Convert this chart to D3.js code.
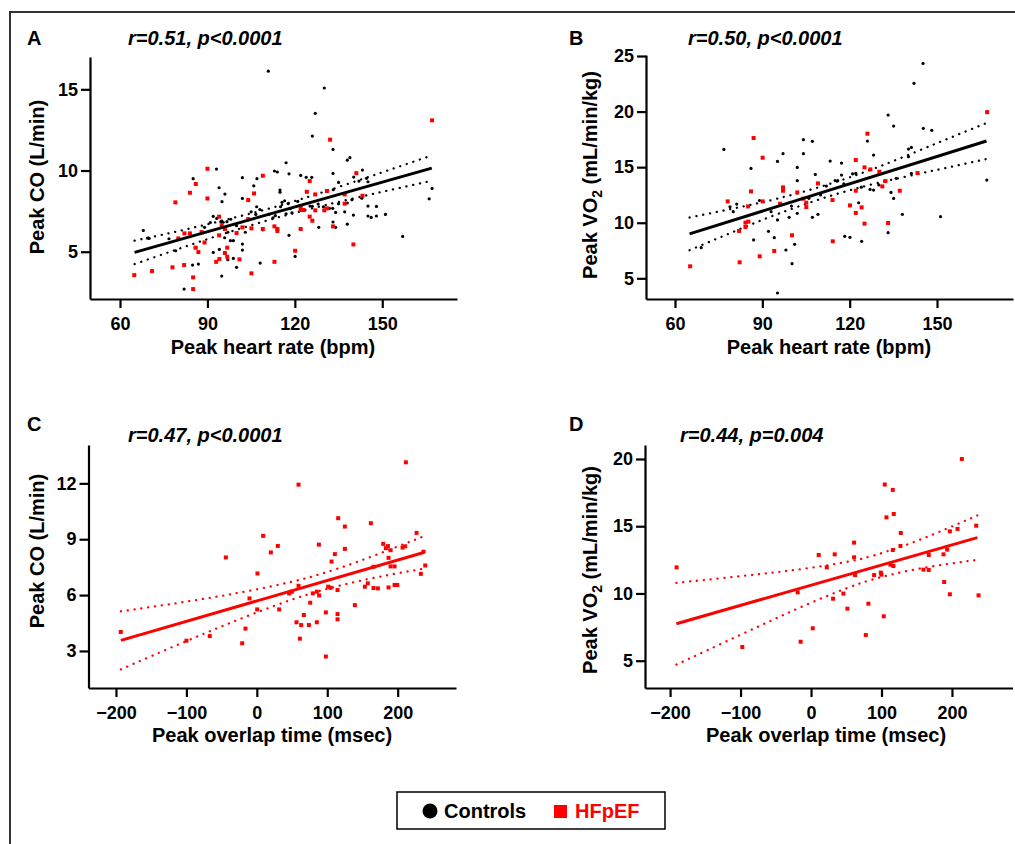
<!DOCTYPE html>
<html>
<head>
<meta charset="utf-8">
<script src="https://cdn.jsdelivr.net/npm/d3@7"></script>
<style>
  body { margin: 0; background: #fff; }
  svg text { font-family: "Liberation Sans", Arial, sans-serif; font-weight: bold; }
</style>
</head>
<body>
<svg id="fig" width="1015" height="844"></svg>
<script>
// panel A: peak heart rate (bpm) vs peak CO (L/min)
var hrCoControls = [[110.9,16.12],[130.1,15.08],[127.0,13.52],[126.0,12.12],[133.1,11.30],[93.1,10.09],[85.1,9.50],[102.0,9.56],[107.0,9.50],[113.0,9.97],[114.0,9.91],[117.0,10.48],[118.0,9.80],[122.0,9.70],[123.9,9.58],[125.8,9.58],[133.1,9.82],[138.0,10.64],[138.9,10.79],[143.2,10.03],[140.2,9.60],[142.0,9.35],[144.6,9.52],[145.1,9.31],[135.0,9.27],[94.0,8.94],[96.0,8.55],[95.0,8.08],[102.0,8.28],[105.9,9.06],[114.9,8.80],[114.9,8.67],[116.5,8.14],[115.6,8.04],[117.7,7.96],[118.4,7.65],[115.1,7.77],[106.9,7.77],[105.0,7.46],[106.6,7.30],[112.5,7.09],[113.3,7.22],[117.0,7.34],[125.2,7.81],[128.0,7.94],[129.8,7.77],[131.9,7.67],[135.0,7.96],[133.2,8.82],[133.0,7.67],[134.0,7.42],[137.1,7.46],[139.6,8.20],[140.1,7.26],[145.1,7.81],[148.0,7.79],[151.1,7.30],[145.1,7.20],[146.2,7.11],[166.1,8.26],[167.1,8.90],[157.0,5.94],[138.0,6.70],[133.1,6.83],[134.0,6.50],[128.2,6.50],[120.1,4.71],[118.0,6.01],[109.0,6.35],[108.1,4.30],[92.0,7.18],[93.2,7.05],[94.6,6.85],[95.4,6.81],[96.7,6.85],[95.9,5.86],[97.9,5.68],[98.9,5.68],[94.1,5.14],[97.0,4.51],[98.9,4.59],[100.0,4.04],[102.0,5.47],[102.0,5.10],[94.9,3.50],[92.0,4.96],[86.9,4.24],[84.9,4.18],[82.0,2.70],[86.1,5.25],[68.0,6.31],[69.4,5.84],[70.0,5.82],[76.8,5.80],[79.1,5.06],[143,8.3],[148,7.2],[138,8.0],[126,7.8],[121,8.1],[119,7.4],[111,7.3],[108,7.6],[100,6.6],[98,7.0],[103,6.2],[89,6.5],[91,6.8],[97,6.2]];
var hrCoHfpef = [[64.9,3.56],[71.0,3.81],[78.0,4.04],[82.0,4.18],[85.1,3.42],[85.1,2.70],[79.0,8.04],[84.0,8.63],[86.0,9.17],[90.0,10.11],[90.0,8.28],[80.0,5.82],[82.1,6.13],[84.0,6.13],[88.0,6.21],[89.0,5.57],[86.9,4.98],[85.9,5.25],[93.0,4.38],[94.1,4.55],[96.0,4.92],[96.8,5.25],[96.8,4.69],[94.0,6.01],[94.9,6.64],[94.0,7.16],[96.0,6.40],[100.0,6.15],[101.0,4.53],[105.1,3.67],[102.0,6.50],[105.1,6.44],[104.0,7.01],[104.0,8.18],[106.0,8.59],[109.0,9.68],[109.0,6.40],[113.0,6.56],[114.0,6.40],[114.0,6.28],[113.0,4.38],[120.1,5.06],[122.0,6.40],[122.0,7.57],[123.0,7.57],[122.0,7.81],[124.1,8.69],[125.1,9.35],[126.0,6.91],[125.1,7.16],[127.0,8.53],[127.0,7.55],[130.1,7.55],[131.0,7.67],[131.0,8.74],[132.1,11.90],[133.1,6.56],[137.1,8.53],[137.1,7.96],[140.1,5.45],[141.1,9.84],[143.2,8.45],[167.1,13.09]];
var hrCoFit = [[65, 4.96], [167, 10.15]];
// [x, lower 95% band, upper 95% band]
var hrCoBand = [[65,4.24,5.68],[80,5.17,6.27],[95,6.07,6.91],[112,7.00,7.70],[130,7.85,8.69],[150,8.69,9.89],[167,9.37,10.93]];

// panel B: peak heart rate (bpm) vs peak VO2 (mL/min/kg)
var hrVoControls = [[76.8,16.60],[86.1,14.89],[87.0,8.45],[92.1,9.23],[94.1,8.66],[95.2,15.52],[95.2,10.25],[95.2,3.68],[97.1,16.21],[98.1,7.55],[99.2,10.49],[100.2,6.32],[101.1,8.06],[102.0,14.98],[102.0,13.78],[102.0,10.85],[104.1,17.47],[104.1,16.21],[107.2,17.32],[108.2,14.35],[107.2,10.49],[109.1,10.76],[113.3,15.55],[117.2,15.37],[117.2,14.29],[118.3,8.78],[120.1,8.69],[123.1,11.80],[122.1,14.44],[124.1,8.33],[126.1,17.35],[128.2,16.09],[128.2,12.94],[133.2,19.69],[133.2,9.11],[135.1,18.70],[135.1,12.19],[138.1,10.76],[140.2,16.63],[141.2,16.78],[140.2,15.94],[142.1,22.54],[145.2,24.33],[145.3,18.49],[148.2,18.31],[151.2,10.55],[141.2,14.44],[134.2,12.73],[115.9,13.78],[69.0,7.76],[78.9,11.44],[81.2,11.68],[167.1,13.84],[112,13.3],[115,13.8],[118,13.5],[121,14.4],[124,13.2],[127,13.0],[130,13.4],[136,14.0],[110,12.5],[106,12.2],[100,11.5],[93,11.0],[89,12.0],[80,11.0]];
var hrVoHfpef = [[65.2,6.08],[78.1,11.92],[82.2,6.44],[82.0,9.26],[84.2,9.62],[84.2,10.01],[85.2,10.10],[85.1,11.47],[86.1,12.82],[87.0,17.62],[89.1,6.98],[90.1,15.85],[90.1,11.92],[94.1,7.46],[96.1,11.71],[97.1,13.18],[97.1,12.88],[100.2,8.87],[102.0,12.73],[104.1,12.16],[105.1,11.80],[105.1,11.41],[109.1,13.54],[114.1,12.04],[114.2,8.33],[120.1,11.56],[122.1,15.64],[122.1,12.88],[122.1,10.88],[124.1,11.38],[125.1,14.98],[125.1,9.92],[126.1,18.01],[127.1,14.80],[130.2,14.59],[131.2,13.27],[132.3,13.75],[133.2,9.98],[137.2,12.88],[143.3,14.47],[167.2,19.95]];
var hrVoFit = [[65, 9.0], [167, 17.35]];
var hrVoBand = [[65,7.53,10.47],[80,9.18,11.28],[95,10.76,12.16],[112,12.30,13.40],[130,13.60,15.04],[150,14.76,17.16],[167,15.73,18.97]];

// panel C: peak overlap time (msec) vs peak CO, HFpEF only
var ovCoHfpef = [[211.6,13.13],[59.2,11.93],[115.5,10.13],[125.0,9.68],[161.9,9.86],[9.0,9.18],[29.8,8.64],[19.9,8.29],[-44.0,8.02],[88.1,8.71],[110.8,8.20],[125.0,8.48],[106.1,7.80],[179.5,8.75],[183.2,8.52],[186.1,8.63],[189.9,8.41],[187.0,8.00],[226.8,9.34],[206.9,8.55],[210.6,8.62],[236.7,8.33],[189.9,7.54],[195.6,7.54],[195.6,6.54],[199.4,6.54],[187.0,6.41],[165.7,7.52],[171.9,6.36],[165.7,6.38],[153.4,6.45],[157.6,6.63],[232.9,7.14],[239.1,7.59],[114.6,6.27],[101.3,6.45],[104.6,6.39],[88.5,5.98],[85.2,6.18],[79.5,6.09],[59.2,6.50],[49.7,6.18],[45.9,6.09],[0.9,7.16],[-10.4,5.82],[0.5,5.23],[31.7,5.23],[75.8,5.59],[66.8,4.93],[56.3,4.54],[63.0,4.39],[73.9,4.39],[85.2,4.54],[98.0,5.07],[114.6,4.98],[114.6,4.70],[139.2,5.46],[61.1,3.66],[-16.1,4.20],[-20.8,3.41],[98.0,2.70],[-66.8,3.80],[-99.9,3.55],[-193.2,4.02]];
var ovCoFit = [[-193, 3.57], [237, 8.29]];
var ovCoBand = [[-193,2.01,5.13],[-150,2.72,5.36],[-100,3.53,5.65],[-50,4.32,5.96],[0,5.07,6.31],[50,5.76,6.72],[93,6.26,7.16],[140,6.71,7.75],[190,7.10,8.46],[237,7.42,9.16]];

// panel D: peak overlap time (msec) vs peak VO2, HFpEF only
var ovVoHfpef = [[-190.8,11.94],[-97.5,6.02],[-18.9,10.08],[-14.7,6.41],[2.4,7.41],[10.9,12.86],[22.3,11.94],[33.6,12.91],[31.3,9.61],[45.9,9.99],[51.6,8.87],[61.1,13.78],[61.1,12.69],[62.5,11.37],[77.7,6.91],[81.4,9.24],[89.5,11.37],[99.0,11.55],[99.9,11.40],[103.2,8.30],[104.6,18.10],[116.0,17.70],[107.0,15.66],[117.4,15.91],[127.4,14.50],[126.9,13.53],[116.0,13.23],[112.7,12.14],[116.9,12.04],[159.6,11.77],[167.1,11.75],[167.1,12.86],[188.0,12.91],[193.2,13.26],[188.9,10.85],[197.0,9.94],[197.0,14.62],[207.9,14.80],[214.0,20.0],[234.4,15.04],[237.7,9.86]];
var ovVoFit = [[-191, 7.75], [236, 14.15]];
var ovVoBand = [[-191,4.71,10.79],[-150,5.71,11.01],[-100,6.93,11.29],[-50,8.14,11.58],[0,9.31,11.91],[50,10.38,12.34],[90,11.08,12.84],[140,11.71,13.71],[190,12.16,14.76],[236,12.50,15.80]];

var hrTicks = [60, 90, 120, 150];
var overlapTicks = [-200, -100, 0, 100, 200];
var coTicksA = [5, 10, 15];
var voTicksB = [5, 10, 15, 20, 25];
var coTicksC = [3, 6, 9, 12];
var voTicksD = [5, 10, 15, 20];
var statsText = ["r=0.51, p<0.0001", "r=0.50, p<0.0001", "r=0.47, p<0.0001", "r=0.44, p=0.004"];

var RED = "#ff0000";
var svg = d3.select("#fig");

// outer frame
svg.append("path").attr("d", "M10,844V12H1015").attr("fill", "none").attr("stroke", "#333").attr("stroke-width", 2);

var panels = [
  { letter: "A", lx: 27, ly: 45, sx: 128, sy: 45, stat: statsText[0],
    xDom: [49.7, 175.65], xRange: [90, 457], yDom: [2.09, 16.99], yRange: [299, 57],
    xTicks: hrTicks, yTicks: coTicksA, xTitle: "Peak heart rate (bpm)", yTitle: ["Peak CO (L/min)"],
    titleX: 273, titleY: 354, yTitleX: 44, yTitleY: 177,
    controls: hrCoControls, hfpef: hrCoHfpef, fit: hrCoFit, band: hrCoBand, color: "#000" },
  { letter: "B", lx: 569, ly: 45, sx: 688, sy: 45, stat: statsText[1],
    xDom: [50.04, 176.1], xRange: [646, 1013], yDom: [3.14, 25.09], yRange: [299, 55],
    xTicks: hrTicks, yTicks: voTicksB, xTitle: "Peak heart rate (bpm)", yTitle: ["Peak VO", "2", " (mL/min/kg)"],
    titleX: 829, titleY: 354, yTitleX: 597, yTitleY: 175,
    controls: hrVoControls, hfpef: hrVoHfpef, fit: hrVoFit, band: hrVoBand, color: "#000" },
  { letter: "C", lx: 27, ly: 431, sx: 128, sy: 442, stat: statsText[2],
    xDom: [-239, 282.8], xRange: [88.5, 456], yDom: [1.01, 14.06], yRange: [688, 445],
    xTicks: overlapTicks, yTicks: coTicksC, xTitle: "Peak overlap time (msec)", yTitle: ["Peak CO (L/min)"],
    titleX: 272, titleY: 742, yTitleX: 44, yTitleY: 551,
    controls: [], hfpef: ovCoHfpef, fit: ovCoFit, band: ovCoBand, color: RED },
  { letter: "D", lx: 569, ly: 431, sx: 680, sy: 442, stat: statsText[3],
    xDom: [-235.6, 285.9], xRange: [645, 1012.5], yDom: [2.97, 21.04], yRange: [688, 445],
    xTicks: overlapTicks, yTicks: voTicksD, xTitle: "Peak overlap time (msec)", yTitle: ["Peak VO", "2", " (mL/min/kg)"],
    titleX: 826, titleY: 742, yTitleX: 597, yTitleY: 570,
    controls: [], hfpef: ovVoHfpef, fit: ovVoFit, band: ovVoBand, color: RED }
];

panels.forEach(drawPanel);

function drawPanel(p) {
  var x = d3.scaleLinear().domain(p.xDom).range(p.xRange);
  var y = d3.scaleLinear().domain(p.yDom).range(p.yRange);
  var g = svg.append("g");

  var xAxis = g.append("g")
    .attr("transform", "translate(0," + p.yRange[0] + ")")
    .call(d3.axisBottom(x).tickValues(p.xTicks).tickSize(9).tickSizeOuter(0).tickPadding(9));
  var yAxis = g.append("g")
    .attr("transform", "translate(" + p.xRange[0] + ",0)")
    .call(d3.axisLeft(y).tickValues(p.yTicks).tickSize(9).tickSizeOuter(0).tickPadding(3));
  [xAxis, yAxis].forEach(function(a) {
    a.select(".domain").attr("stroke-width", 2.2);
    a.selectAll(".tick line").attr("stroke-width", 2.2);
    a.selectAll(".tick text").attr("font-size", 18).attr("fill", "#000");
  });

  // dotted confidence band
  ["lo", "hi"].forEach(function(side) {
    var line = d3.line()
      .x(function(d) { return x(d[0]); })
      .y(function(d) { return y(side == "lo" ? d[1] : d[2]); })
      .curve(d3.curveNatural);
    g.append("path").attr("d", line(p.band))
      .attr("fill", "none").attr("stroke", p.color)
      .attr("stroke-width", 2.3).attr("stroke-linecap", "round")
      .attr("stroke-dasharray", "0.1 6.8");
  });

  g.selectAll(".ctl").data(p.controls).enter().append("circle")
    .attr("cx", function(d) { return x(d[0]); })
    .attr("cy", function(d) { return y(d[1]); })
    .attr("r", 1.6).attr("fill", "#000");

  g.selectAll(".hf").data(p.hfpef).enter().append("rect")
    .attr("x", function(d) { return x(d[0]) - 2; })
    .attr("y", function(d) { return y(d[1]) - 2; })
    .attr("width", 4).attr("height", 4).attr("fill", RED);

  g.append("line")
    .attr("x1", x(p.fit[0][0])).attr("y1", y(p.fit[0][1]))
    .attr("x2", x(p.fit[1][0])).attr("y2", y(p.fit[1][1]))
    .attr("stroke", p.color).attr("stroke-width", 3);

  // labels
  svg.append("text").attr("x", p.lx).attr("y", p.ly).attr("font-size", 20).text(p.letter);
  svg.append("text").attr("x", p.sx).attr("y", p.sy).attr("font-size", 20)
    .attr("font-style", "italic").text(p.stat);
  svg.append("text").attr("x", p.titleX).attr("y", p.titleY).attr("font-size", 20)
    .attr("text-anchor", "middle").text(p.xTitle);

  var yt = svg.append("text")
    .attr("transform", "translate(" + p.yTitleX + "," + p.yTitleY + ") rotate(-90)")
    .attr("font-size", 20).attr("text-anchor", "middle");
  yt.append("tspan").text(p.yTitle[0]);
  if (p.yTitle.length > 1) {
    yt.append("tspan").attr("font-size", 14).attr("dy", 5).text(p.yTitle[1]);
    yt.append("tspan").attr("dy", -5).text(p.yTitle[2]);
  }
}

// legend
var legend = svg.append("g");
legend.append("rect").attr("x", 397).attr("y", 792).attr("width", 268).attr("height", 37)
  .attr("fill", "#fff").attr("stroke", "#000").attr("stroke-width", 1.5);
legend.append("circle").attr("cx", 430).attr("cy", 811).attr("r", 7.5).attr("fill", "#000");
legend.append("text").attr("x", 444).attr("y", 818).attr("font-size", 20).text("Controls");
legend.append("rect").attr("x", 554).attr("y", 805).attr("width", 13).attr("height", 13).attr("fill", RED);
legend.append("text").attr("x", 575).attr("y", 818).attr("font-size", 20).attr("fill", RED).text("HFpEF");
</script>
</body>
</html>
